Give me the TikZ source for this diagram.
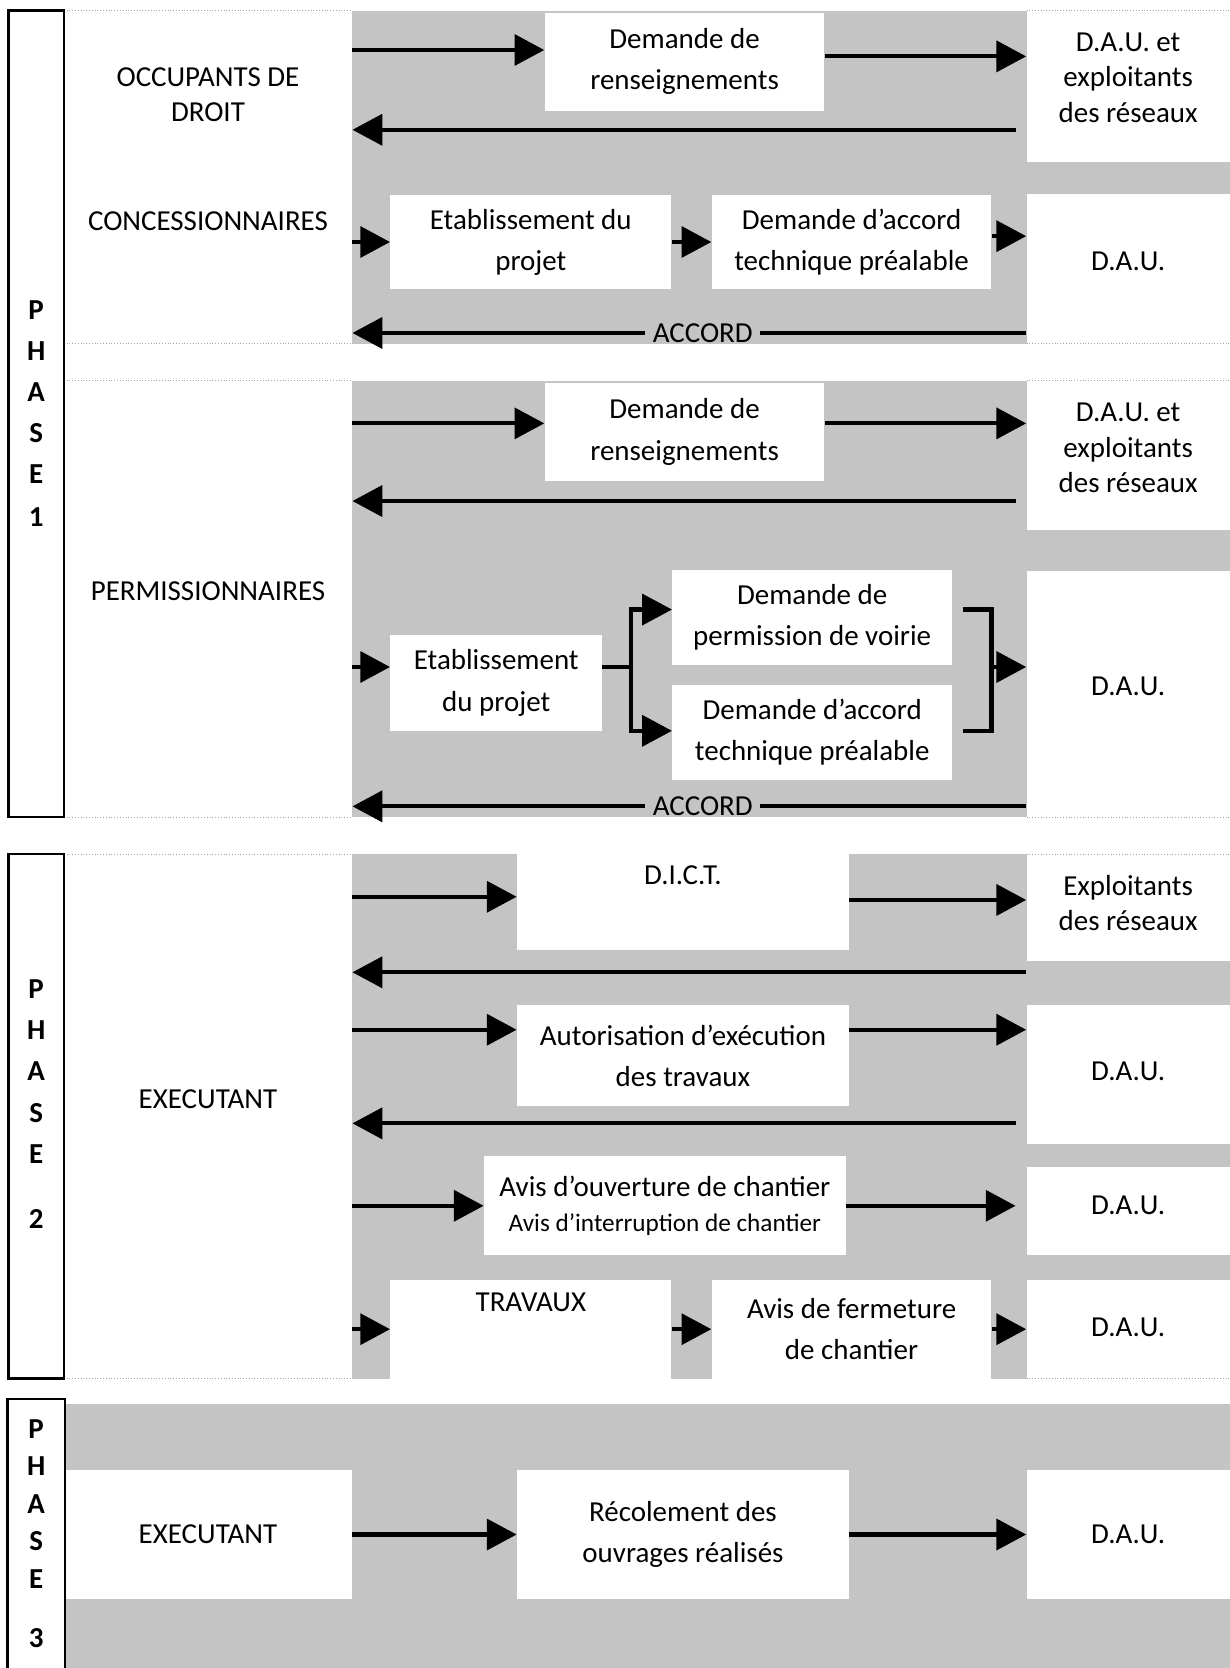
\documentclass[tikz,border=0pt]{standalone}
\usepackage{fontspec}
\setmainfont{Carlito}
\usetikzlibrary{arrows.meta,calc}
\definecolor{gris}{RGB}{196,196,196}
\newcommand{\unite}{0.02cm}

\tikzset{
  fleche/.style={line width=2.2pt,-{Triangle[length=0.56cm,width=0.58cm]}},
  trait/.style={line width=2.2pt},
  boite/.style 2 args={fill=white, inner sep=0pt, align=center, minimum width=#1*\unite, minimum height=#2*\unite, font=\fontsize{15.5}{22}\selectfont},
  cellule/.style 2 args={inner sep=0pt, align=center, minimum width=#1*\unite, minimum height=#2*\unite, font=\fontsize{15.5}{19}\selectfont},
  phase/.style 2 args={draw, line width=1.3pt, inner sep=0pt, align=center, minimum width=#1*\unite, minimum height=#2*\unite, font=\fontsize{15.5}{22}\selectfont\bfseries},
  accord/.style={fill=gris, inner xsep=4pt, inner ysep=0pt, font=\fontsize{15.5}{19}\selectfont},
  pointille/.style={gray!70, densely dotted, line width=0.5pt},
}

\begin{document}
\begin{tikzpicture}[x=\unite, y=-\unite]
\useasboundingbox (0,0) rectangle (1156,1568);

% fonds gris
\fill[gris] (331,10) rectangle (965,323);
\fill[gris] (965,152) rectangle (1156,182);
\fill[gris] (331,358) rectangle (965,768);
\fill[gris] (965,498) rectangle (1156,537);
\fill[gris] (331,803) rectangle (965,1296);
\fill[gris] (965,903) rectangle (1156,945);
\fill[gris] (965,1075) rectangle (1156,1097);
\fill[gris] (965,1180) rectangle (1156,1203);
\fill[gris] (60,1320) rectangle (1156,1568);
\foreach \y in {10,323,358,768,803,1296}
  \draw[pointille] (60,\y) -- (331,\y) (965,\y) -- (1156,\y);

% lignes des fleches
\coordinate (rA1) at (0,47);
\coordinate (rA2) at (0,53);
\coordinate (rA3) at (0,122);
\coordinate (rA4) at (0,222);
\coordinate (rA5) at (0,313);
\coordinate (rB1) at (0,398);
\coordinate (rB2) at (0,471);
\coordinate (rB3) at (0,627);
\coordinate (rB4) at (0,573);
\coordinate (rB5) at (0,687);
\coordinate (rB6) at (0,758);
\coordinate (rC1) at (0,843);
\coordinate (rC2) at (0,846);
\coordinate (rC3) at (0,914);
\coordinate (rC4) at (0,968);
\coordinate (rC5) at (0,1056);

% ---- phase 1
\node[phase={52}{758}] (ph1) at (34,389) {\mbox{}\\[-12pt]P\\H\\A\\S\\E\\[1pt]1};
\node[cellule={271}{60}] (occ) at (195.5,89) {OCCUPANTS DE\\DROIT};
\node[cellule={271}{40}] (conc) at (195.5,208) {CONCESSIONNAIRES};
\node[cellule={191}{142}] (dauA) at (1060.5,73) {D.A.U. et\\exploitants\\des réseaux};
\node[cellule={191}{141}] (dauB) at (1060.5,246) {D.A.U.};
\node[boite={263}{92}] (demA) at (643.5,58) {Demande de\\renseignements};
\node[boite={264}{89}] (etaA) at (499,227.5) {Etablissement du\\projet};
\node[boite={263}{89}] (accA) at (800.5,227.5) {Demande d’accord\\technique préalable};

\draw[fleche] (occ.east |- rA1) -- (demA.west |- rA1);
\draw[fleche] (demA.east |- rA2) -- (dauA.west |- rA2);
\draw[fleche] ($(dauA.west |- rA3)+(-10,0)$) -- (occ.east |- rA3);
\draw[fleche] (conc.east |- etaA.west) -- (etaA.west);
\draw[fleche] (etaA.east) -- (accA.west);
\draw[fleche] (accA.east |- rA4) -- (dauB.west |- rA4);
\draw[fleche] (dauB.west |- rA5) -- node[accord, pos=0.48] (accordA) {ACCORD} (conc.east |- rA5);

\node[cellule={271}{40}] (perm) at (195.5,556) {PERMISSIONNAIRES};
\node[cellule={191}{140}] (dauC) at (1060.5,421) {D.A.U. et\\exploitants\\des réseaux};
\node[cellule={191}{231}] (dauD) at (1060.5,645) {D.A.U.};
\node[boite={263}{92}] (demB) at (643.5,406) {Demande de\\renseignements};
\node[boite={199}{90}] (etaB) at (466.5,642) {Etablissement\\du projet};
\node[boite={263}{89}] (voiB) at (763.5,580.5) {Demande de\\permission de voirie};
\node[boite={263}{89}] (accB) at (763.5,688.5) {Demande d’accord\\technique préalable};
\coordinate (crochG) at (593,627);
\coordinate (crochD) at (932,627);

\draw[fleche] (perm.east |- rB1) -- (demB.west |- rB1);
\draw[fleche] (demB.east |- rB1) -- (dauC.west |- rB1);
\draw[fleche] ($(dauC.west |- rB2)+(-10,0)$) -- (perm.east |- rB2);
\draw[fleche] (perm.east |- rB3) -- (etaB.west |- rB3);
\draw[trait] (etaB.east |- rB3) -- (crochG);
\draw[trait, line cap=rect] (crochG |- rB4) -- (crochG |- rB5);
\draw[fleche] (crochG |- rB4) -- (voiB.west |- rB4);
\draw[fleche] (crochG |- rB5) -- (accB.west |- rB5);
\draw[trait, line join=miter] ($(voiB.east |- rB4)+(10,0)$) -| (crochD |- rB5) -- ($(accB.east |- rB5)+(10,0)$);
\draw[fleche] (crochD) -- (dauD.west |- crochD);
\draw[fleche] (dauD.west |- rB6) -- node[accord, pos=0.48] (accordB) {ACCORD} (perm.east |- rB6);

% ---- phase 2
\node[phase={52}{493}] (ph2) at (34,1049.5) {P\\H\\A\\S\\E\\[13pt]2\\[-9pt]\mbox{}};
\node[cellule={271}{60}] (exec) at (195.5,1033) {EXECUTANT};
\node[cellule={191}{100}] (expl) at (1060.5,849) {Exploitants\\des réseaux};
\node[cellule={191}{130}] (dauE) at (1060.5,1007) {D.A.U.};
\node[cellule={191}{83}] (dauF) at (1060.5,1133) {D.A.U.};
\node[cellule={191}{93}] (dauG) at (1060.5,1248) {D.A.U.};
\node[boite={312}{90}] (dict) at (642,848) {D.I.C.T.\\\strut};
\node[boite={312}{95}] (aut) at (642,992.5) {Autorisation d’exécution\\des travaux};
\node[boite={340}{93}] (avis) at (625,1133.5) {Avis d’ouverture de chantier\\[-3pt]{\fontsize{13.5}{16}\selectfont Avis d’interruption de chantier}};
\node[boite={264}{93}] (trav) at (499,1249.5) {TRAVAUX\\\strut};
\node[boite={263}{93}] (ferm) at (800.5,1249.5) {Avis de fermeture\\de chantier};

\draw[fleche] (exec.east |- rC1) -- (dict.west |- rC1);
\draw[fleche] (dict.east |- rC2) -- (expl.west |- rC2);
\draw[fleche] (expl.west |- rC3) -- (exec.east |- rC3);
\draw[fleche] (exec.east |- rC4) -- (aut.west |- rC4);
\draw[fleche] (aut.east |- rC4) -- (dauE.west |- rC4);
\draw[fleche] ($(dauE.west |- rC5)+(-10,0)$) -- (exec.east |- rC5);
\draw[fleche] (exec.east |- avis.west) -- (avis.west);
\draw[fleche] (avis.east) -- ($(dauF.west |- avis.east)+(-10,0)$);
\draw[fleche] (exec.east |- trav.west) -- (trav.west);
\draw[fleche] (trav.east) -- (ferm.west);
\draw[fleche] (ferm.east) -- (dauG.west |- ferm.east);

% ---- phase 3
\node[boite={271}{121}] (exec3) at (195.5,1442.5) {EXECUTANT};
\node[boite={312}{121}] (rec) at (642,1442.5) {Récolement des\\ouvrages réalisés};
\node[boite={191}{121}] (dau3) at (1060.5,1442.5) {D.A.U.};
\draw[fleche] (exec3.east) -- (rec.west);
\draw[fleche] (rec.east) -- (dau3.west);
\node[phase={52}{252}, draw=none, font=\fontsize{15.5}{20}\selectfont\bfseries] (ph3) at (34,1442) {P\\H\\A\\S\\E\\[12pt]3};
\draw[line width=1.3pt] (ph3.south west) |- (ph3.north east) -- (ph3.south east);
\end{tikzpicture}
\end{document}
